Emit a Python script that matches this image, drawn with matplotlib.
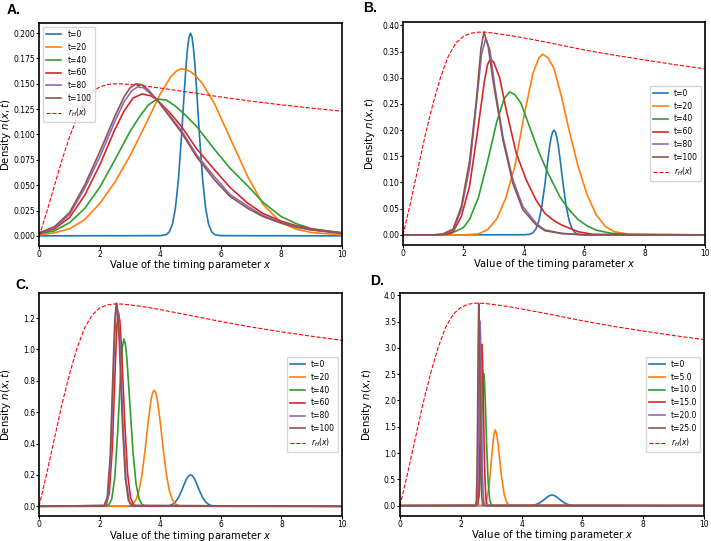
import matplotlib

matplotlib.use("Agg")
import matplotlib.pyplot as plt
from matplotlib.ticker import MultipleLocator

# ---- shared curves -------------------------------------------------------
# t=0 initial density (same in every panel)
T0_X = [0, 4.0, 4.2, 4.3, 4.4, 4.5, 4.6, 4.7, 4.8, 4.85, 4.9, 4.95, 5.0,
        5.05, 5.1, 5.15, 5.2, 5.3, 5.4, 5.5, 5.6, 5.7, 5.8, 6.0, 10]
T0_Y = [0, 0.0002, 0.0012, 0.004, 0.0112, 0.0271, 0.0556, 0.0973, 0.145,
        0.167, 0.1846, 0.196, 0.2, 0.196, 0.1846, 0.167, 0.145, 0.0973,
        0.0556, 0.0271, 0.0112, 0.004, 0.0012, 0.0002, 0]

RH_X = [0, 0.25, 0.5, 0.75, 1.0, 1.25, 1.5, 1.75, 2.0, 2.25, 2.5, 2.75,
        3.0, 3.5, 4, 5, 6, 7, 8, 9, 10]
RH_A = [0, 0.024, 0.0495, 0.075, 0.0975, 0.117, 0.132, 0.1418, 0.147,
        0.1493, 0.150, 0.1499, 0.1493, 0.1478, 0.1458, 0.1415, 0.137,
        0.1329, 0.1293, 0.126, 0.123]
RH_B = [0, 0.062, 0.128, 0.194, 0.252, 0.302, 0.341, 0.366, 0.379, 0.385,
        0.387, 0.387, 0.385, 0.381, 0.376, 0.365, 0.353, 0.343, 0.334,
        0.325, 0.317]
RH_C = [0, 0.206, 0.426, 0.645, 0.839, 1.006, 1.135, 1.219, 1.264, 1.284,
        1.29, 1.289, 1.284, 1.271, 1.254, 1.216, 1.178, 1.143, 1.112,
        1.084, 1.058]
RH_D = [0, 0.616, 1.27, 1.925, 2.50, 3.00, 3.39, 3.64, 3.77, 3.83, 3.85,
        3.846, 3.83, 3.79, 3.74, 3.63, 3.515, 3.41, 3.32, 3.234, 3.157]

# ---- panel A -------------------------------------------------------------
A_X20 = [0, 0.5, 1.0, 1.5, 2.0, 2.5, 3.0, 3.5, 4.0, 4.35, 4.55, 4.7, 4.85,
         5.0, 5.2, 5.4, 5.8, 6.3, 6.9, 7.4, 8.0, 8.5, 9.0, 10]
A_Y20 = [0.001, 0.003, 0.007, 0.016, 0.032, 0.053, 0.079, 0.109, 0.140,
         0.157, 0.163, 0.165, 0.164, 0.162, 0.157, 0.150, 0.130, 0.097,
         0.058, 0.031, 0.013, 0.0065, 0.0033, 0.001]
A_X40 = [0, 0.5, 1.0, 1.5, 2.0, 2.5, 3.0, 3.3, 3.6, 3.9, 4.2, 4.5, 4.8,
         5.2, 5.8, 6.3, 6.9, 7.4, 8.0, 8.5, 9.0, 10]
A_Y40 = [0.002, 0.005, 0.013, 0.027, 0.048, 0.075, 0.103, 0.117, 0.129,
         0.135, 0.134, 0.128, 0.120, 0.108, 0.085, 0.067, 0.049, 0.033,
         0.019, 0.012, 0.007, 0.003]
A_X60 = [0, 0.5, 1.0, 1.5, 2.0, 2.5, 2.8, 3.1, 3.4, 3.7, 3.9, 4.3, 4.7,
         5.2, 5.8, 6.3, 6.9, 7.4, 8.0, 8.5, 9.0, 10]
A_Y60 = [0.003, 0.007, 0.018, 0.040, 0.070, 0.105, 0.123, 0.136, 0.140,
         0.138, 0.134, 0.122, 0.108, 0.086, 0.065, 0.048, 0.032, 0.022,
         0.0145, 0.010, 0.0068, 0.003]
A_X80 = [0, 0.5, 1.0, 1.5, 2.0, 2.5, 2.8, 3.05, 3.25, 3.45, 3.65, 3.9, 4.3,
         4.7, 5.2, 5.8, 6.3, 6.9, 7.4, 8.0, 8.5, 9.0, 10]
A_Y80 = [0.003, 0.008, 0.021, 0.047, 0.078, 0.113, 0.132, 0.143, 0.147,
         0.146, 0.141, 0.134, 0.119, 0.104, 0.080, 0.058, 0.041, 0.029,
         0.020, 0.013, 0.009, 0.006, 0.0025]
A_X100 = [0, 0.5, 1.0, 1.5, 2.0, 2.5, 2.8, 3.0, 3.2, 3.4, 3.6, 3.9, 4.3,
          4.7, 5.2, 5.8, 6.3, 6.9, 7.4, 8.0, 8.5, 9.0, 10]
A_Y100 = [0.003, 0.009, 0.023, 0.050, 0.083, 0.118, 0.137, 0.146, 0.150,
          0.149, 0.144, 0.134, 0.118, 0.102, 0.078, 0.055, 0.039, 0.027,
          0.019, 0.0125, 0.0085, 0.0058, 0.0025]

# ---- panel B -------------------------------------------------------------
B_X20 = [0, 2.0, 2.5, 2.8, 3.1, 3.4, 3.7, 4.0, 4.3, 4.5, 4.62, 4.8, 5.0,
         5.25, 5.5, 5.8, 6.1, 6.4, 6.7, 7.0, 7.5, 10]
B_Y20 = [0, 0, 0.002, 0.010, 0.030, 0.070, 0.130, 0.225, 0.308, 0.338,
         0.345, 0.338, 0.318, 0.263, 0.200, 0.130, 0.076, 0.038, 0.016,
         0.006, 0.001, 0]
B_X40 = [0, 1.2, 1.6, 2.0, 2.2, 2.5, 2.8, 3.1, 3.35, 3.53, 3.7, 3.9, 4.2,
         4.5, 4.8, 5.2, 5.5, 5.8, 6.1, 6.4, 6.9, 7.5, 10]
B_Y40 = [0, 0, 0.003, 0.014, 0.029, 0.072, 0.140, 0.215, 0.260, 0.273,
         0.268, 0.252, 0.205, 0.158, 0.118, 0.072, 0.048, 0.029, 0.017,
         0.009, 0.003, 0.0005, 0]
B_X60 = [0, 1.0, 1.4, 1.66, 1.93, 2.2, 2.45, 2.7, 2.8, 2.89, 3.0, 3.2,
         3.42, 3.75, 4.08, 4.4, 4.7, 5.0, 5.25, 5.8, 6.3, 10]
B_Y60 = [0, 0, 0.001, 0.006, 0.035, 0.092, 0.190, 0.295, 0.325, 0.336,
         0.330, 0.300, 0.238, 0.156, 0.105, 0.067, 0.041, 0.027, 0.019,
         0.006, 0.001, 0]
B_X80 = [0, 1.0, 1.3, 1.66, 1.93, 2.21, 2.43, 2.6, 2.74, 2.88, 3.04, 3.31,
         3.64, 3.97, 4.41, 4.7, 5.25, 6.0, 10]
B_Y80 = [0, 0, 0.001, 0.0095, 0.048, 0.130, 0.25, 0.345, 0.375, 0.352,
         0.283, 0.187, 0.105, 0.054, 0.022, 0.0095, 0.003, 0, 0]
B_X100 = [0, 1.0, 1.3, 1.66, 1.93, 2.21, 2.43, 2.58, 2.68, 2.82, 2.98,
          3.31, 3.64, 3.97, 4.41, 4.7, 5.25, 6.0, 10]
B_Y100 = [0, 0, 0.0012, 0.011, 0.054, 0.143, 0.257, 0.355, 0.387, 0.360,
          0.295, 0.181, 0.098, 0.048, 0.019, 0.008, 0.0025, 0, 0]

# ---- panel C -------------------------------------------------------------
C_X20 = [0, 2.8, 3.0, 3.1, 3.2, 3.3, 3.4, 3.5, 3.6, 3.7, 3.75, 3.8, 3.85,
         3.9, 4.0, 4.1, 4.2, 4.3, 4.4, 4.5, 4.6, 4.8, 10]
C_Y20 = [0, 0.0002, 0.0044, 0.0147, 0.0415, 0.100, 0.206, 0.360, 0.537,
         0.683, 0.725, 0.74, 0.725, 0.683, 0.537, 0.360, 0.206, 0.100,
         0.0415, 0.0147, 0.0044, 0.0002, 0]
C_X40 = [0, 2.2, 2.3, 2.4, 2.5, 2.6, 2.7, 2.75, 2.8, 2.85, 2.9, 3.0, 3.1,
         3.2, 3.3, 3.4, 3.5, 3.6, 10]
C_Y40 = [0, 0.0009, 0.008, 0.047, 0.184, 0.488, 0.877, 1.015, 1.066,
         1.033, 0.941, 0.647, 0.346, 0.144, 0.047, 0.012, 0.0022, 0.0003, 0]
C_X60 = [0, 2.12, 2.22, 2.32, 2.42, 2.52, 2.57, 2.62, 2.67, 2.72, 2.82,
         2.92, 3.02, 3.12, 3.22, 10]
C_Y60 = [0, 0.0008, 0.011, 0.086, 0.379, 0.919, 1.148, 1.236, 1.177,
         1.017, 0.566, 0.213, 0.054, 0.0094, 0.001, 0]
C_X80 = [0, 2.17, 2.27, 2.37, 2.47, 2.52, 2.57, 2.62, 2.67, 2.77, 2.87,
         2.97, 3.07, 10]
C_Y80 = [0, 0.005, 0.057, 0.322, 0.912, 1.183, 1.29, 1.220, 1.033, 0.530,
         0.175, 0.037, 0.005, 0]
C_X100 = [0, 2.15, 2.25, 2.35, 2.45, 2.50, 2.55, 2.60, 2.65, 2.75, 2.85,
          2.95, 3.05, 10]
C_Y100 = [0, 0.005, 0.057, 0.323, 0.915, 1.19, 1.295, 1.225, 1.037, 0.532,
          0.175, 0.037, 0.005, 0]

# ---- panel D -------------------------------------------------------------
D_X5 = [0, 2.73, 2.83, 2.93, 3.03, 3.08, 3.13, 3.18, 3.23, 3.33, 3.43,
        3.53, 3.63, 10]
D_Y5 = [0, 0.0056, 0.063, 0.359, 1.018, 1.32, 1.44, 1.362, 1.153, 0.592,
        0.195, 0.041, 0.0056, 0]
D_X10 = [0, 2.50, 2.55, 2.60, 2.63, 2.66, 2.69, 2.72, 2.75, 2.78, 2.81,
         2.85, 2.90, 2.95, 3.00, 3.05, 10]
D_Y10 = [0, 0.0006, 0.022, 0.175, 0.457, 0.962, 1.639, 2.256, 2.51, 2.34,
         1.895, 1.149, 0.432, 0.110, 0.019, 0.001, 0]
D_X15 = [0, 2.53, 2.56, 2.59, 2.61, 2.63, 2.65, 2.67, 2.69, 2.71, 2.73,
         2.75, 2.77, 2.79, 2.82, 2.85, 2.89, 10]
D_Y15 = [0, 0.0055, 0.047, 0.26, 0.632, 1.262, 2.07, 2.78, 3.07, 2.873,
         2.357, 1.694, 1.066, 0.588, 0.188, 0.045, 0.004, 0]
D_X20 = [0, 2.50, 2.53, 2.55, 2.57, 2.59, 2.61, 2.63, 2.65, 2.67, 2.69,
         2.71, 2.73, 2.76, 2.79, 10]
D_Y20 = [0, 0.0035, 0.059, 0.258, 0.808, 1.826, 2.98, 3.51, 3.18, 2.365,
         1.443, 0.723, 0.297, 0.054, 0.006, 0]
D_X25 = [0, 2.47, 2.49, 2.51, 2.53, 2.55, 2.57, 2.59, 2.61, 2.63, 2.65,
         2.67, 2.69, 2.72, 2.75, 10]
D_Y25 = [0, 0.0012, 0.015, 0.109, 0.52, 1.578, 3.075, 3.84, 3.389, 2.329,
         1.248, 0.52, 0.169, 0.02, 0.0003, 0]

LABELS_ABC = ["t=0", "t=20", "t=40", "t=60", "t=80", "t=100"]
LABELS_D = ["t=0", "t=5.0", "t=10.0", "t=15.0", "t=20.0", "t=25.0"]


def draw(ax, curves, labels, rh, ystep, yfmt, legend_loc):
    for i, ((x, y), lab) in enumerate(zip(curves, labels)):
        ax.plot(x, y, color=f"C{i}", lw=1.2, label=lab)
    ax.plot(RH_X, rh, color="red", ls="--", lw=0.8, label=r"$r_H(x)$")
    ax.set_xlim(0, 10)
    ax.xaxis.set_major_locator(MultipleLocator(2))
    ax.yaxis.set_major_locator(MultipleLocator(ystep))
    ax.yaxis.set_major_formatter(yfmt)
    ax.tick_params(labelsize=5.5, length=2, width=0.8, pad=0.8)
    for sp in ax.spines.values():
        sp.set_linewidth(1.2)
    ax.set_xlabel("Value of the timing parameter $x$", fontsize=7.2)
    ax.set_ylabel("Density $n(x,t)$", fontsize=7.3)
    # label positions in axes coords (axes are ~302 x 223 px)
    ax.xaxis.set_label_coords(0.5, -0.054)
    ax.yaxis.set_label_coords(-0.086, 0.5)
    ax.legend(loc=legend_loc, fontsize=5.5)


fig = plt.figure(figsize=(7.11, 5.41), dpi=100)
axA = fig.add_axes([0.0553, 0.5453, 0.4253, 0.4122])
axB = fig.add_axes([0.5668, 0.5471, 0.4248, 0.4122])
axC = fig.add_axes([0.0549, 0.0454, 0.4262, 0.4130])
axD = fig.add_axes([0.5626, 0.0466, 0.4276, 0.4118])

draw(axA, [(T0_X, T0_Y), (A_X20, A_Y20), (A_X40, A_Y40), (A_X60, A_Y60),
           (A_X80, A_Y80), (A_X100, A_Y100)],
     LABELS_ABC, RH_A, 0.025, "{x:.3f}", "upper left")
draw(axB, [(T0_X, T0_Y), (B_X20, B_Y20), (B_X40, B_Y40), (B_X60, B_Y60),
           (B_X80, B_Y80), (B_X100, B_Y100)],
     LABELS_ABC, RH_B, 0.05, "{x:.2f}", "center right")
draw(axC, [(T0_X, T0_Y), (C_X20, C_Y20), (C_X40, C_Y40), (C_X60, C_Y60),
           (C_X80, C_Y80), (C_X100, C_Y100)],
     LABELS_ABC, RH_C, 0.2, "{x:.1f}", "center right")
draw(axD, [(T0_X, T0_Y), (D_X5, D_Y5), (D_X10, D_Y10), (D_X15, D_Y15),
           (D_X20, D_Y20), (D_X25, D_Y25)],
     LABELS_D, RH_D, 0.5, "{x:.1f}", "center right")

for lab, (x, y) in zip("ABCD", [(7, 14), (363, 12), (15, 289), (370, 285)]):
    fig.text(x / 711, 1 - y / 541, lab + ".", fontsize=10, weight="bold",
             family="Liberation Sans")

fig.savefig("out.png", dpi=100)
